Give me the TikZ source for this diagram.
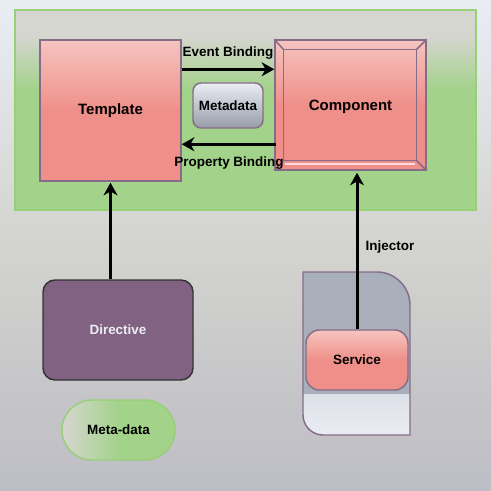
\documentclass[tikz,border=0pt]{standalone}
\usepackage{fontspec}
\setmainfont{Liberation Sans}
\usetikzlibrary{arrows.meta}

\definecolor{pagetop}{HTML}{E9EDF4}
\definecolor{pagemid}{HTML}{D3D3CF}
\definecolor{pagebot}{HTML}{BDBDC5}
\definecolor{greyband}{HTML}{D6D6D0}
\definecolor{leafgreen}{HTML}{A3D28A}
\definecolor{leafedge}{HTML}{97D077}
\definecolor{salmon}{HTML}{EF8F89}
\definecolor{salmonlight}{HTML}{F6C4C0}
\definecolor{plumedge}{HTML}{856C88}
\definecolor{plum}{HTML}{816282}
\definecolor{steel}{HTML}{A9AEBB}
\definecolor{mist}{HTML}{EAEDF3}

\tikzset{every picture/.style={line width=0.75pt}}

\begin{document}
\begin{tikzpicture}[x=0.75pt,y=0.75pt,yscale=-1,xscale=1,
	pinkbox/.style={draw=plumedge,line width=1.1pt,top color=salmonlight,bottom color=salmon,middle color=salmon,inner sep=0pt},
	smalltext/.style={font=\fontsize{10.1}{12}\selectfont\bfseries,text=black},
	bigtext/.style={font=\fontsize{11.25}{13}\selectfont\bfseries,text=black},
	flow/.style={line width=2.25pt,-{Stealth[length=9.5pt,width=10.5pt,inset=3pt]}}]
	\useasboundingbox (0,0) rectangle (491,491);
	
	%Shape: Background
	\shade[top color=pagetop,bottom color=pagebot,middle color=pagemid] (0,0) rectangle (491,491);
	
	%Shape: Rectangle (container)
	\fill[leafgreen] (15,10) rectangle (476,210);
	\fill[greyband] (15,10) rectangle (476,35);
	\shade[top color=greyband,bottom color=leafgreen] (15,35) rectangle (476,90);
	\draw[leafedge,line width=1.5pt] (15,10) rectangle (476,210);
	
	%Shape: Rectangle (template)
	\node[pinkbox,minimum width=105.75pt,minimum height=105.75pt] (tmpl) at (110.5,110.5) {};
	% Text Node
	\node[bigtext] at (tmpl.center) {Template};
	
	%Shape: Frame (component)
	\node[pinkbox,minimum width=113.25pt,minimum height=97.5pt] (comp) at (350.5,105) {};
	\coordinate (compA) at ([xshift=6.75pt,yshift=7.5pt]comp.north west);
	\coordinate (compB) at ([xshift=-7.5pt,yshift=7.5pt]comp.north east);
	\coordinate (compC) at ([xshift=-7.5pt,yshift=-7.5pt]comp.south east);
	\coordinate (compD) at ([xshift=6.75pt,yshift=-7.5pt]comp.south west);
	\draw[plumedge,line width=1.1pt] (compA) -- (compB) -- (compC) -- (compD) -- cycle;
	\draw[plumedge,line width=1.1pt] (comp.north west) -- (compA) (comp.north east) -- (compB) (comp.south east) -- (compC) (comp.south west) -- (compD);
	\draw[white!70!salmon,line width=1pt] ([xshift=1.5pt,yshift=2.5pt]compD) -- ([xshift=-1.5pt,yshift=2.5pt]compC);
	% Text Node
	\node[bigtext] at ([yshift=1.5pt]comp.center) {Component};
	
	%Shape: Rounded Rectangle (metadata)
	\node[draw=plumedge,line width=1.1pt,rounded corners=6pt,top color=mist,bottom color=steel!90!black,minimum width=52.5pt,minimum height=33.75pt,smalltext] (meta) at (228,105.5) {Metadata};
	
	%Shape: Rounded Rectangle (directive)
	\node[draw=black!80,line width=1.1pt,rounded corners=9pt,fill=plum,minimum width=112.5pt,minimum height=75pt,smalltext,text=mist] (dir) at (118,330) {Directive};
	
	%Shape: Stadium (meta-data)
	\node[draw=leafedge,line width=1.1pt,rounded corners=22.5pt,left color=greyband,right color=leafgreen,middle color=leafgreen,minimum width=84.75pt,minimum height=45pt,smalltext] (metad) at (118.5,430) {Meta-data};
	
	%Shape: Card (service backing)
	\begin{scope}
		\clip (303,272) -- (377,272) .. controls (395,272) and (410,287) .. (410,305) -- (410,435) -- (323,435) .. controls (312,435) and (303,426) .. (303,415) -- cycle;
		\fill[steel] (303,272) rectangle (410,435);
		\shade[top color=mist!80!steel,bottom color=mist] (303,394) rectangle (410,435);
	\end{scope}
	\draw[plumedge,line width=1.1pt] (303,272) -- (377,272) .. controls (395,272) and (410,287) .. (410,305) -- (410,435) -- (323,435) .. controls (312,435) and (303,426) .. (303,415) -- cycle;
	
	%Shape: Rounded Rectangle (service)
	\node[pinkbox,rounded corners=10pt,minimum width=76.5pt,minimum height=45pt] (svc) at (357,360) {};
	% Text Node
	\node[smalltext] at (svc.center) {Service};
	
	%Straight Lines
	\draw[flow] ([yshift=22.5pt]tmpl.north east) -- node[smalltext,above=3.25pt] {Event Binding} ([yshift=22.5pt]comp.north west);
	%Straight Lines
	\draw[flow] ([xshift=1.5pt,yshift=78.75pt]comp.north west) -- node[smalltext,below=5pt] {Property Binding} ([yshift=78.75pt]tmpl.north east);
	%Straight Lines
	\draw[flow] (dir.north -| tmpl.south) -- ([yshift=0.75pt]tmpl.south);
	%Straight Lines
	\draw[flow] (svc.north) -- node[smalltext,right=2pt,pos=0.525] {Injector} ([yshift=1.5pt]svc.north |- comp.south);
	
\end{tikzpicture}
\end{document}
